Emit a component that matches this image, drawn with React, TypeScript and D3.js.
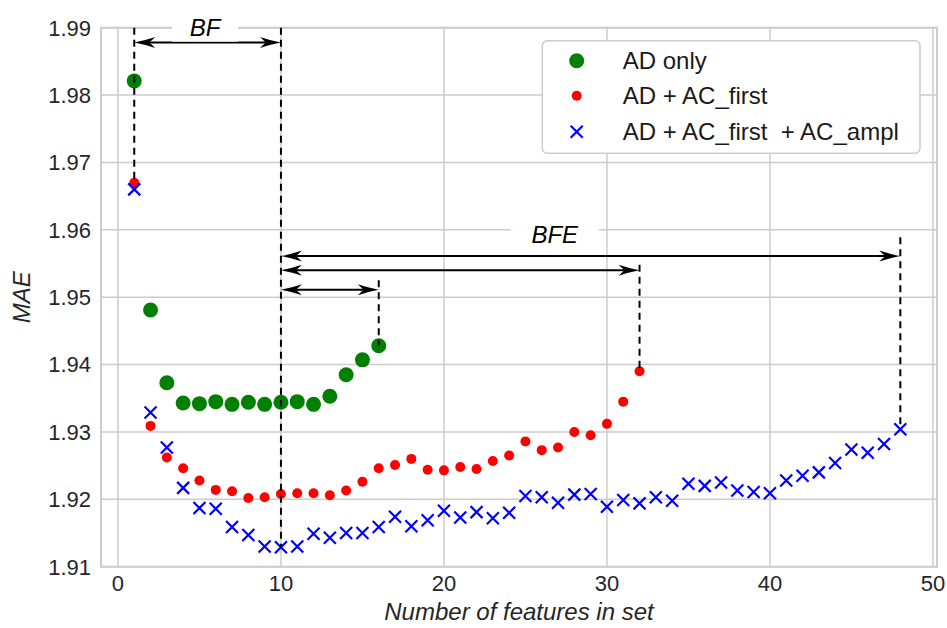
import React from 'react';
import * as d3 from 'd3';

// MAE for feature sets of size 1..n
const adOnly = [1.9821, 1.9481, 1.9373, 1.9343, 1.9342, 1.9345, 1.9341, 1.9344, 1.9341, 1.9344,
  1.9345, 1.9341, 1.9353, 1.9385, 1.9407, 1.9428];
const adAcFirst = [1.9670, 1.9309, 1.9262, 1.9246, 1.9228, 1.9214, 1.9212, 1.9202, 1.9203, 1.9208,
  1.9209, 1.9209, 1.9206, 1.9213, 1.9226, 1.9246, 1.9251, 1.9260, 1.9244, 1.9243,
  1.9248, 1.9245, 1.9257, 1.9265, 1.9286, 1.9273, 1.9277, 1.9300, 1.9295, 1.9312,
  1.9345, 1.9390];
const adAcFirstAmpl = [1.9660, 1.9329, 1.9277, 1.9217, 1.9187, 1.9186, 1.9159, 1.9147, 1.9130, 1.9129,
  1.9130, 1.9149, 1.9143, 1.9150, 1.9150, 1.9159, 1.9174, 1.9160, 1.9169, 1.9183,
  1.9173, 1.9181, 1.9172, 1.9180, 1.9205, 1.9203, 1.9195, 1.9207, 1.9208, 1.9189,
  1.9199, 1.9194, 1.9203, 1.9198, 1.9223, 1.9220, 1.9225, 1.9213, 1.9211, 1.9209,
  1.9228, 1.9235, 1.9240, 1.9254, 1.9274, 1.9269, 1.9282, 1.9304];

const xTicks = [0, 10, 20, 30, 40, 50];
const yTicks = [1.91, 1.92, 1.93, 1.94, 1.95, 1.96, 1.97, 1.98, 1.99];

// annotations: [x, yTop, yBottom]
const dashLines: [number, number, number][] = [
  [1, 1.99, adAcFirst[0]],
  [10, 1.99, adAcFirstAmpl[9]],
  [16, 1.9525, adOnly[15]],
  [32, 1.9548, adAcFirst[31]],
  [48, 1.9589, adAcFirstAmpl[47]],
];
// [x1, x2, y]
const arrows: [number, number, number][] = [
  [1, 10, 1.9878],
  [10, 48, 1.9561],
  [10, 32, 1.9540],
  [10, 16, 1.9511],
];
const labels: [string, number, number][] = [
  ['BF', 5.35, 1.99],
  ['BFE', 26.8, 1.9594],
];

const W = 947, H = 628;
const x = d3.scaleLinear().domain([-1.04, 50.25]).range([101, 937]);
const y = d3.scaleLinear().domain([1.91, 1.99]).range([566.7, 27.7]);

const grid = '#cccccc';
const txt = '#262626';
const font = '"Liberation Sans", Arial, sans-serif';

function Cross({cx, cy, s = 6}: {cx: number; cy: number; s?: number}) {
  return <path d={`M${cx - s},${cy - s}L${cx + s},${cy + s}M${cx - s},${cy + s}L${cx + s},${cy - s}`}
    stroke="#0000ff" strokeWidth={2.2} fill="none" />;
}

function head(tx: number, ty: number, dir: number) {
  const L = 21, Wd = 5.5;
  const bx = tx - dir * L;
  return `M${tx},${ty}Q${tx - dir * L * 0.5},${ty - Wd * 0.35} ${bx},${ty - Wd}L${tx - dir * L * 0.72},${ty}L${bx},${ty + Wd}Q${tx - dir * L * 0.5},${ty + Wd * 0.35} ${tx},${ty}Z`;
}

export default function App() {
  const [l, r] = x.range();
  const [b, t] = y.range();
  return (
    <svg width={W} height={H} style={{position: 'absolute', left: 0, top: 0, background: '#fff'}}
      fontFamily={font}>
      {/* grid */}
      {xTicks.map(v => <line key={'gx' + v} x1={x(v)} x2={x(v)} y1={t} y2={b} stroke={grid} strokeWidth={1.5} />)}
      {yTicks.map(v => <line key={'gy' + v} x1={l} x2={r} y1={y(v)} y2={y(v)} stroke={grid} strokeWidth={1.5} />)}
      <rect x={l} y={t} width={r - l} height={b - t} fill="none" stroke={grid} strokeWidth={2} />

      {/* ticks */}
      {xTicks.map(v => <text key={'tx' + v} x={x(v)} y={591} textAnchor="middle" fontSize={22} fill={txt}>{v}</text>)}
      {yTicks.map(v => <text key={'ty' + v} x={91} y={y(v)} dy="0.36em" textAnchor="end" fontSize={22} fill={txt}>{v.toFixed(2)}</text>)}
      <text x={(l + r) / 2} y={620} textAnchor="middle" fontSize={24} fontStyle="italic" fill={txt}>Number of features in set</text>
      <text transform={`translate(30,${(t + b) / 2}) rotate(-90)`} textAnchor="middle" fontSize={24} fontStyle="italic" fill={txt}>MAE</text>

      {/* points */}
      {adOnly.map((v, i) => <circle key={'g' + i} cx={x(i + 1)} cy={y(v)} r={7.5} fill="#008000" />)}
      {adAcFirst.map((v, i) => <circle key={'r' + i} cx={x(i + 1)} cy={y(v)} r={5} fill="#ff0000" />)}
      {adAcFirstAmpl.map((v, i) => <Cross key={'b' + i} cx={x(i + 1)} cy={y(v)} />)}

      {/* annotations */}
      {dashLines.map(([xv, y1, y2], i) => (
        <line key={'d' + i} x1={x(xv)} x2={x(xv)} y1={y(y1)} y2={y(y2)} stroke="#000" strokeWidth={2} strokeDasharray="7,5" />
      ))}
      {arrows.map(([x1, x2, yv], i) => (
        <g key={'a' + i}>
          <line x1={x(x1) + 8} x2={x(x2) - 8} y1={y(yv)} y2={y(yv)} stroke="#000" strokeWidth={2} />
          <path d={head(x(x1), y(yv), -1)} fill="#000" />
          <path d={head(x(x2), y(yv), 1)} fill="#000" />
        </g>
      ))}
      {labels.map(([s, xv, yv]) => {
        const hw = (s.length * 22 + 22) / 2;
        return (
          <g key={s}>
            <rect x={x(xv) - hw} y={y(yv) - 12} width={2 * hw} height={26} fill="#fff" opacity={0.95} />
            <text x={x(xv)} y={y(yv)} dy="0.36em" textAnchor="middle" fontSize={24} fontStyle="italic" fill="#000">{s}</text>
          </g>
        );
      })}

      {/* legend */}
      <g>
        <rect x={542.3} y={40.7} width={377.7} height={112.6} rx={5} fill="#fff" stroke={grid} strokeWidth={1.5} />
        <circle cx={576.7} cy={60.7} r={7.5} fill="#008000" />
        <circle cx={576.7} cy={95.7} r={5} fill="#ff0000" />
        <Cross cx={576.7} cy={131.7} />
        {['AD only', 'AD + AC_first', 'AD + AC_first  + AC_ampl'].map((s, i) => (
          <text key={s} x={622.7} y={[60.7, 95.7, 131.7][i]} dy="0.36em" fontSize={24} fill="#1a1a1a"
            style={{whiteSpace: 'pre'}}>{s}</text>
        ))}
      </g>
    </svg>
  );
}
